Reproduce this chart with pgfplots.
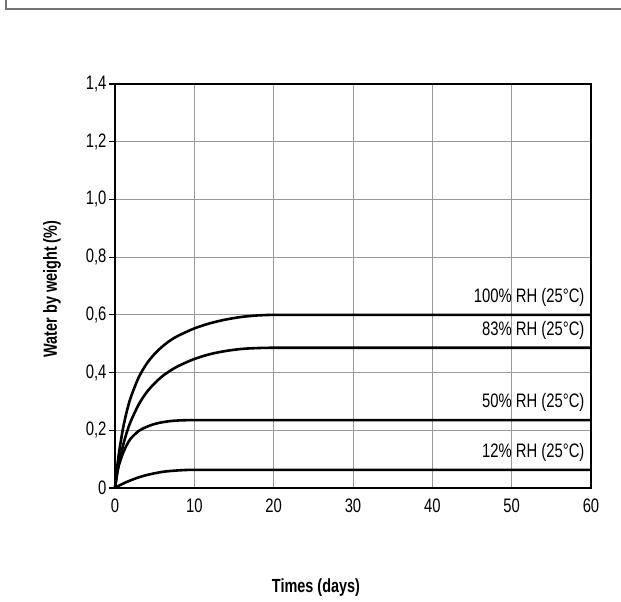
\documentclass[border=0pt]{standalone}
\usepackage{fontspec}
\setmainfont{Liberation Sans}[FakeStretch=0.76]
\usepackage{pgfplots}
\pgfplotsset{compat=1.18}
\begin{document}
\begin{tikzpicture}
\useasboundingbox (0pt,0pt) rectangle (621pt,602pt);
\draw[black!55, line width=1.2pt] (6pt,602pt) -- (6pt,593pt) -- (621pt,593pt);
\begin{axis}[
  at={(115pt,114pt)}, anchor=south west,
  scale only axis, width=476pt, height=404pt,
  xmin=0, xmax=60, ymin=0, ymax=1.4,
  xtick={0,10,20,30,40,50,60},
  ytick={0,0.2,0.4,0.6,0.8,1.0,1.2,1.4},
  yticklabels={0,{0,2},{0,4},{0,6},{0,8},{1,0},{1,2},{1,4}},
  grid=major,
  major grid style={black!40, line width=0.8pt},
  axis line style={line width=1.4pt},
  xtick style={draw=none},
  ytick style={line width=1.2pt, black},
  ytick pos=left,
  tick align=outside,
  major tick length=6pt,
  tick label style={font=\fontsize{19.5}{22}\selectfont},
  /pgf/number format/assume math mode=true,
  xticklabel style={yshift=-1pt},
  yticklabel style={xshift=1pt},
  clip=false,
]
\addplot[black, line width=2.6pt, smooth] coordinates {(0,0) (0.25,0.066) (0.5,0.121) (1,0.205) (1.5,0.267) (2,0.315) (3,0.384) (4,0.431) (5,0.465) (6,0.491) (7,0.512) (8,0.528) (10,0.553) (12,0.571) (14,0.584) (16,0.593) (18,0.598) (20,0.6) (23,0.6) (27,0.6) (32,0.6) (38,0.6) (45,0.6) (52,0.6) (60,0.6)};
\addplot[black, line width=2.6pt, smooth] coordinates {(0,0) (0.25,0.046) (0.5,0.085) (1,0.146) (1.5,0.194) (2,0.232) (3,0.29) (4,0.332) (5,0.363) (6,0.388) (7,0.407) (8,0.423) (10,0.447) (12,0.464) (14,0.475) (16,0.482) (18,0.485) (20,0.486) (23,0.486) (27,0.486) (32,0.486) (38,0.486) (45,0.486) (52,0.486) (60,0.486)};
\addplot[black, line width=2.6pt, smooth] coordinates {(0,0) (0.25,0.05) (0.5,0.08) (1,0.12) (1.5,0.15) (2,0.172) (3,0.198) (4,0.212) (5,0.222) (6,0.228) (7,0.232) (8,0.234) (9,0.235) (10,0.235) (12,0.235) (15,0.235) (19,0.235) (24,0.235) (30,0.235) (37,0.235) (45,0.235) (52,0.235) (60,0.235)};
\addplot[black, line width=2.6pt, smooth] coordinates {(0,0) (0.5,0.008) (1,0.015) (2,0.027) (3,0.037) (4,0.045) (5,0.051) (6,0.056) (7,0.059) (8,0.061) (9,0.0625) (10,0.063) (12,0.063) (15,0.063) (19,0.063) (24,0.063) (30,0.063) (37,0.063) (45,0.063) (52,0.063) (60,0.063)};
\node[anchor=south east, font=\fontsize{19.5}{22}\selectfont, inner sep=0pt] at (axis cs:59.2,0.628) {100\% RH (25°C)};
\node[anchor=south east, font=\fontsize{19.5}{22}\selectfont, inner sep=0pt] at (axis cs:59.2,0.513) {83\% RH (25°C)};
\node[anchor=south east, font=\fontsize{19.5}{22}\selectfont, inner sep=0pt] at (axis cs:59.2,0.263) {50\% RH (25°C)};
\node[anchor=south east, font=\fontsize{19.5}{22}\selectfont, inner sep=0pt] at (axis cs:59.2,0.091) {12\% RH (25°C)};
\end{axis}
\node[rotate=90, font=\bfseries\fontsize{19}{22}\selectfont] at (52pt,313pt) {Water by weight (\%)};
\node[font=\bfseries\fontsize{19}{22}\selectfont] at (316pt,14pt) {Times (days)};
\end{tikzpicture}
\end{document}
